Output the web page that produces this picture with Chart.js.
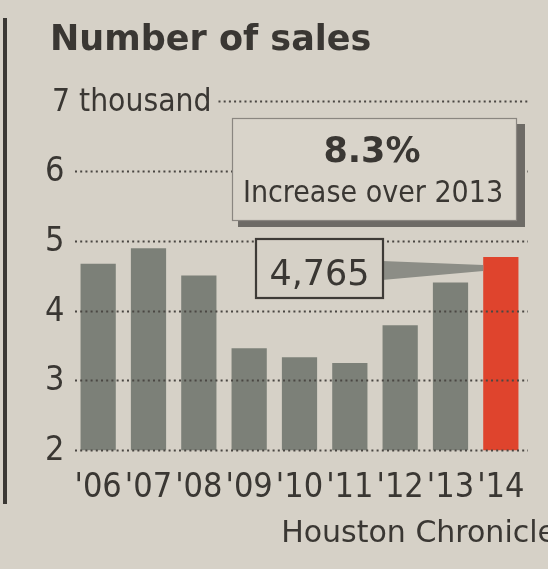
<!DOCTYPE html>
<html>
<head>
<meta charset="utf-8">
<script src="https://cdn.jsdelivr.net/npm/chart.js@4.4.1/dist/chart.umd.min.js"></script>
<style>
  html, body { margin: 0; padding: 0; background: #d6d1c7; }
  #wrap { width: 548px; height: 569px; position: relative; }
</style>
</head>
<body>
<div id="wrap"><canvas id="Chart1"></canvas></div>
<script>
// sales in thousands
var years = ["'06", "'07", "'08", "'09", "'10", "'11", "'12", "'13", "'14"];
var sales = [4.67, 4.89, 4.50, 3.46, 3.33, 3.25, 3.79, 4.40, 4.765];
var yTicks = [2, 3, 4, 5, 6, 7];
var yTickLabels = ['2', '3', '4', '5', '6', '7 thousand'];

var paper = '#d6d1c7';
var ink = '#3a3733';
var barGray = '#7c8078';
var barRed = '#df442d';
var condensed = "'DejaVu Sans Condensed', 'Liberation Sans Narrow', 'DejaVu Sans', sans-serif";
var rounded = "'DejaVu Sans', sans-serif";

var bgc = [];
for (var i = 0; i < sales.length; i++) {
    bgc.push(i == sales.length - 1 ? barRed : barGray);
}

// y labels + dotted grid lines over the bars; the top line starts after its long label
var dottedGrid = {
    id: 'dottedGrid',
    afterDatasetsDraw: function (chart) {
        var ctx = chart.ctx, y = chart.scales.y, ca = chart.chartArea;
        ctx.save();
        ctx.textAlign = 'left';
        ctx.textBaseline = 'middle';
        for (var i = 0; i < yTicks.length; i++) {
            var py = Math.round(y.getPixelForValue(yTicks[i])) + 0.5;
            var lab = yTickLabels[i];
            var top = i == yTicks.length - 1;
            ctx.font = (top ? '31.5px ' : '34px ') + condensed;
            var labW = ctx.measureText(lab).width;
            var lx = top ? 52 : 45;
            ctx.fillStyle = ink;
            ctx.fillText(lab, lx, py + 1);
            var x0 = Math.max(ca.left + 2, lx + labW + 7);
            ctx.strokeStyle = '#4a4743';
            ctx.lineWidth = 2.2;
            ctx.setLineDash([2, 3.2]);
            ctx.beginPath();
            ctx.moveTo(x0, py);
            ctx.lineTo(ca.right + 2, py);
            ctx.stroke();
        }
        ctx.restore();
    }
};

// callouts, rule at the left and source line
var callouts = {
    id: 'callouts',
    beforeDraw: function (chart) {
        var ctx = chart.ctx;
        ctx.save();
        ctx.fillStyle = paper;
        ctx.fillRect(0, 0, chart.width, chart.height);
        ctx.fillStyle = '#3b3834';
        ctx.fillRect(3, 18, 4, 486);
        ctx.restore();
    },
    afterDraw: function (chart) {
        var ctx = chart.ctx;
        var last = sales.length - 1;
        var bar = chart.getDatasetMeta(0).data[last];
        var pct = ((sales[last] / sales[last - 1]) - 1) * 100;
        ctx.save();
        // big box with shadow
        ctx.fillStyle = '#6e6b66';
        ctx.fillRect(238, 124, 287, 103);
        ctx.fillStyle = '#d9d4ca';
        ctx.fillRect(232, 118, 285, 103);
        ctx.strokeStyle = '#8a8680';
        ctx.lineWidth = 1.2;
        ctx.strokeRect(232.5, 118.5, 284, 102);
        ctx.fillStyle = ink;
        ctx.textAlign = 'center';
        ctx.textBaseline = 'alphabetic';
        ctx.font = 'bold 35px ' + rounded;
        ctx.fillText(pct.toFixed(1) + '%', 372, 162);
        ctx.font = '30px ' + condensed;
        ctx.fillText('Increase over ' + (2000 + parseInt(years[last - 1].slice(1), 10)), 373, 202);

        // value box with pointer to the last bar
        var bx = bar.x - bar.width / 2;
        ctx.fillStyle = '#8c8d86';
        ctx.beginPath();
        ctx.moveTo(382, 261);
        ctx.lineTo(bx, bar.y + 8);
        ctx.lineTo(bx, bar.y + 14);
        ctx.lineTo(382, 280);
        ctx.closePath();
        ctx.fill();
        ctx.fillStyle = paper;
        ctx.fillRect(256, 239, 127, 59);
        ctx.strokeStyle = '#3e3b37';
        ctx.lineWidth = 2.2;
        ctx.strokeRect(256, 239, 127, 59);
        ctx.fillStyle = ink;
        ctx.font = '35px ' + rounded;
        ctx.fillText(Math.round(sales[last] * 1000).toLocaleString('en-US'), 319.5, 285);

        // source
        ctx.textAlign = 'right';
        ctx.font = '30px ' + rounded;
        ctx.fillText('Houston Chronicle', 556, 542);
        ctx.restore();
    }
};

window.onload = function () {
    var ctx = document.getElementById('Chart1').getContext('2d');
    var chart = new Chart(ctx, {
        type: 'bar',
        data: {labels: years, datasets: [{label: 'Number of sales', backgroundColor: bgc, borderWidth: 0, data: sales,
            barPercentage: 0.7, categoryPercentage: 1}]},
        options: {
            responsive: true,
            maintainAspectRatio: false,
            animation: false,
            layout: {padding: {left: 50, right: 22, top: 20, bottom: 42}},
            plugins: {
                legend: {display: false},
                tooltip: {enabled: false},
                title: {display: true, text: 'Number of sales', align: 'start', color: ink,
                    font: {family: rounded, size: 35, weight: 'bold'}, padding: {top: 0, bottom: 39}}
            },
            scales: {
                x: {
                    grid: {display: false, drawTicks: false},
                    border: {display: false},
                    ticks: {color: ink, font: {family: condensed, size: 34}, padding: 18, maxRotation: 0, autoSkip: false}
                },
                y: {
                    min: 2, max: 7,
                    grid: {display: false, drawTicks: false},
                    border: {display: false},
                    afterFit: function (scale) { scale.width = 23; },
                    afterBuildTicks: function (scale) {
                        scale.ticks = yTicks.map(function (v) { return {value: v}; });
                    },
                    ticks: {display: false}
                }
            }
        },
        plugins: [dottedGrid, callouts]
    });
};
</script>
</body>
</html>
